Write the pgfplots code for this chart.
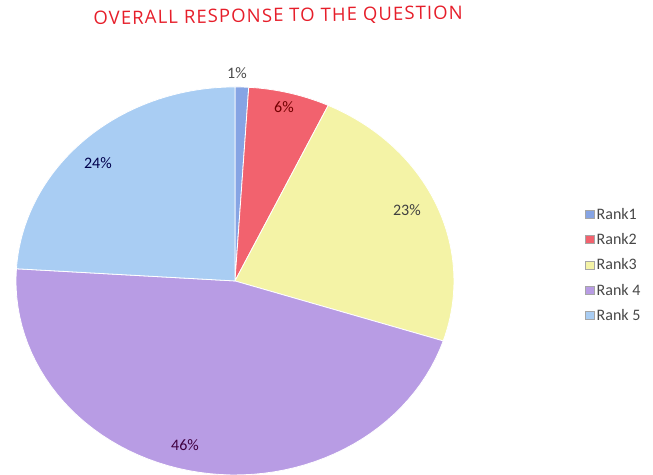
\documentclass[border=0pt]{standalone}
\usepackage{pgfplots}
\usepackage{pgfplotstable}
\pgfplotsset{compat=1.18}
\usepackage{fontspec}
\setmainfont{Carlito}
\newfontfamily\titlefont[LetterSpace=6]{Open Sans}
\definecolor{cA}{HTML}{86A4E4}
\definecolor{cB}{HTML}{F2626E}
\definecolor{cC}{HTML}{F4F3A6}
\definecolor{cD}{HTML}{B89CE4}
\definecolor{cE}{HTML}{A9CDF3}
\definecolor{ttl}{HTML}{E61E2A}
\pgfplotstableread{
label pct
Rank1 1
Rank2 6
Rank3 23
Rank4 46
Rank5 24
}\piedata
\pgfplotstablegetelem{0}{pct}\of\piedata \pgfmathsetmacro\pA{\pgfplotsretval}
\pgfplotstablegetelem{1}{pct}\of\piedata \pgfmathsetmacro\pB{\pgfplotsretval}
\pgfplotstablegetelem{2}{pct}\of\piedata \pgfmathsetmacro\pC{\pgfplotsretval}
\pgfplotstablegetelem{3}{pct}\of\piedata \pgfmathsetmacro\pD{\pgfplotsretval}
\pgfplotstablegetelem{4}{pct}\of\piedata \pgfmathsetmacro\pE{\pgfplotsretval}
% boundary angles (clockwise from 12 o'clock)
\pgfmathsetmacro\aO{90}
\pgfmathsetmacro\aA{90-3.6*\pA}
\pgfmathsetmacro\aB{\aA-3.6*\pB}
\pgfmathsetmacro\aC{\aB-3.6*\pC}
\pgfmathsetmacro\aD{\aC-3.6*\pD}
\pgfmathsetmacro\aE{\aD-3.6*\pE}
\begin{document}
\begin{tikzpicture}
\begin{axis}[
  scale only axis, width=653pt, height=474pt,
  xmin=-1.073, xmax=1.909, ymin=-0.995, ymax=1.448,
  hide axis, clip=true,
  title={\titlefont\fontsize{18.5}{21}\selectfont\color{ttl}OVERALL RESPONSE TO THE QUESTION},
  title style={at={(rel axis cs:0.426,0.952)}, anchor=center, inner sep=0pt, rotate=0.9},
  legend style={at={(rel axis cs:0.896,0.441)}, anchor=west, draw=none, fill=none,
    font=\fontsize{16}{18}\selectfont\color{black!72}, row sep=8.7pt, inner sep=0pt,
    /tikz/every even column/.append style={column sep=4pt}},
  legend cell align=left,
  legend image code/.code={\draw[#1, draw=black!35, line width=0.4pt] (0pt,-4pt) rectangle (9pt,4pt);},
  every axis plot/.append style={data cs=polar, samples=60, variable=\t, draw=white, line width=0.8pt},
]
\path (rel axis cs:0,0) rectangle (rel axis cs:1,1);
\addplot[fill=cA, domain=\aA:\aO] ({\t},{1}) -- (axis cs:0,0) -- cycle;
\addlegendentry{Rank1}
\addplot[fill=cB, domain=\aB:\aA] ({\t},{1}) -- (axis cs:0,0) -- cycle;
\addlegendentry{Rank2}
\addplot[fill=cC, domain=\aC:\aB] ({\t},{1}) -- (axis cs:0,0) -- cycle;
\addlegendentry{Rank3}
\addplot[fill=cD, domain=\aD:\aC] ({\t},{1}) -- (axis cs:0,0) -- cycle;
\addlegendentry{Rank 4}
\addplot[fill=cE, domain=\aE:\aD] ({\t},{1}) -- (axis cs:0,0) -- cycle;
\addlegendentry{Rank 5}
\node[font=\fontsize{16}{18}\selectfont, text=black!70] at (axis cs:0.009,1.072) {1\%};
\node[font=\fontsize{16}{18}\selectfont, text=red!45!black] at (axis cs:0.224,0.897) {6\%};
\node[font=\fontsize{16}{18}\selectfont, text=black!75] at (axis cs:0.785,0.366) {23\%};
\node[font=\fontsize{16}{18}\selectfont, text=violet!50!black] at (axis cs:-0.228,-0.845) {46\%};
\node[font=\fontsize{16}{18}\selectfont, text=blue!30!black] at (axis cs:-0.626,0.609) {24\%};
\end{axis}
\end{tikzpicture}
\end{document}
